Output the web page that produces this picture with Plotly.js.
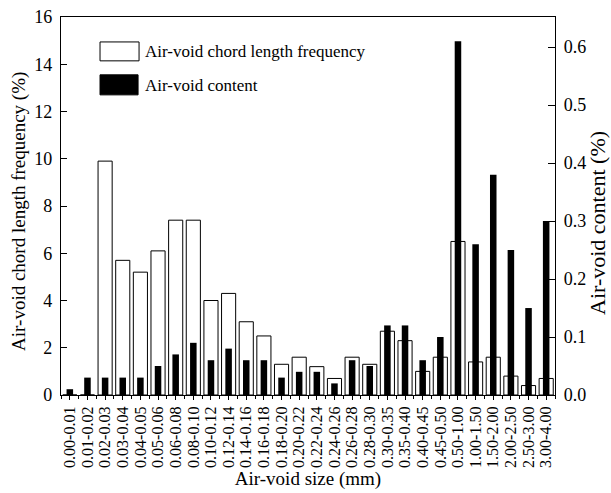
<!DOCTYPE html>
<html>
<head>
<meta charset="utf-8">
<script src="https://cdn.plot.ly/plotly-3.0.1.min.js"></script>
<style>
  html, body { margin: 0; padding: 0; background: #fff; }
  #chart { width: 611px; height: 493px; }
</style>
</head>
<body>
<div id="chart"></div>
<script>
// Air-void size classes (mm)
const sizeBins = [
  '0.00-0.01', '0.01-0.02', '0.02-0.03', '0.03-0.04', '0.04-0.05', '0.05-0.06',
  '0.06-0.08', '0.08-0.10', '0.10-0.12', '0.12-0.14', '0.14-0.16', '0.16-0.18',
  '0.18-0.20', '0.20-0.22', '0.22-0.24', '0.24-0.26', '0.26-0.28', '0.28-0.30',
  '0.30-0.35', '0.35-0.40', '0.40-0.45', '0.45-0.50', '0.50-1.00', '1.00-1.50',
  '1.50-2.00', '2.00-2.50', '2.50-3.00', '3.00-4.00'
];

// Air-void chord length frequency (%) — left axis
const chordFrequency = [
  0, 0, 9.9, 5.7, 5.2, 6.1,
  7.4, 7.4, 4.0, 4.3, 3.1, 2.5,
  1.3, 1.6, 1.2, 0.7, 1.6, 1.3,
  2.7, 2.3, 1.0, 1.6, 6.5, 1.4,
  1.6, 0.8, 0.4, 0.7
];

// Air-void content (%) — right axis
const voidContent = [
  0.01, 0.03, 0.03, 0.03, 0.03, 0.05,
  0.07, 0.09, 0.06, 0.08, 0.06, 0.06,
  0.03, 0.04, 0.04, 0.02, 0.06, 0.05,
  0.12, 0.12, 0.06, 0.10, 0.61, 0.26,
  0.38, 0.25, 0.15, 0.30
];

const leftTicks = [0, 2, 4, 6, 8, 10, 12, 14, 16];
const rightTicks = [0, 0.1, 0.2, 0.3, 0.4, 0.5, 0.6];

const legendNames = ['Air-void chord length frequency', 'Air-void content'];
const xTitle = 'Air-void size (mm)';
const leftTitle = 'Air-void chord length frequency (%)';
const rightTitle = 'Air-void content (%)';

const serif = 'Liberation Serif, Times New Roman, serif';
const binIndex = sizeBins.map((_, i) => i);

const traces = [
  {
    type: 'bar',
    name: legendNames[0],
    x: binIndex,
    y: chordFrequency,
    width: 0.8,
    marker: { color: '#ffffff', line: { color: '#000000', width: 1 } },
    yaxis: 'y',
    hoverinfo: 'skip'
  },
  {
    type: 'bar',
    name: legendNames[1],
    x: binIndex,
    y: voidContent,
    width: 0.37,
    marker: { color: '#000000', line: { width: 0 } },
    yaxis: 'y2',
    hoverinfo: 'skip'
  }
];

// paper-space geometry of the hand-drawn key
const key = { x0: 0.079, x1: 0.158, textX: 0.166 };

const layout = {
  width: 611,
  height: 493,
  margin: { l: 61, r: 56, t: 17, b: 98, pad: 0 },
  paper_bgcolor: '#ffffff',
  plot_bgcolor: '#ffffff',
  showlegend: false,
  barmode: 'overlay',
  font: { family: serif, color: '#000000' },
  xaxis: {
    range: [-0.5, sizeBins.length - 0.5],
    tickmode: 'array',
    tickvals: binIndex,
    ticktext: sizeBins,
    tickangle: -90,
    tickfont: { family: serif, size: 16, color: '#000' },
    ticks: 'outside',
    ticklen: 4,
    tickwidth: 1,
    tickcolor: '#000',
    minor: { tick0: 0.5, dtick: 1, ticks: 'outside', ticklen: 3, tickwidth: 1, tickcolor: '#000' },
    showline: true,
    linecolor: '#000',
    linewidth: 1.2,
    mirror: true,
    showgrid: false,
    zeroline: false,
    title: { text: xTitle, font: { family: serif, size: 19, color: '#000' }, standoff: 0 }
  },
  yaxis: {
    range: [0, 16],
    tickmode: 'array',
    tickvals: leftTicks,
    ticks: 'inside',
    ticklen: 6,
    tickwidth: 1,
    tickcolor: '#000',
    tickfont: { family: serif, size: 18, color: '#000' },
    ticklabelstandoff: 4,
    showline: true,
    linecolor: '#000',
    linewidth: 1.2,
    showgrid: false,
    zeroline: false
  },
  yaxis2: {
    overlaying: 'y',
    side: 'right',
    range: [0, 0.652],
    tickmode: 'array',
    tickvals: rightTicks,
    tickformat: '.1f',
    ticks: 'inside',
    ticklen: 7,
    tickwidth: 1,
    tickcolor: '#000',
    tickfont: { family: serif, size: 18, color: '#000' },
    ticklabelstandoff: 4,
    showline: true,
    linecolor: '#000',
    linewidth: 1.2,
    showgrid: false,
    zeroline: false
  },
  shapes: [
    { type: 'rect', xref: 'paper', yref: 'paper', x0: key.x0, x1: key.x1, y0: 0.884, y1: 0.934,
      fillcolor: '#ffffff', line: { color: '#000', width: 1 } },
    { type: 'rect', xref: 'paper', yref: 'paper', x0: key.x0, x1: key.x1 - 0.002, y0: 0.794, y1: 0.847,
      fillcolor: '#000000', line: { color: '#000', width: 1 } }
  ],
  annotations: [
    { xref: 'paper', yref: 'paper', x: key.textX, y: 0.910, xanchor: 'left', yanchor: 'middle',
      text: legendNames[0], showarrow: false, font: { family: serif, size: 17, color: '#000' } },
    { xref: 'paper', yref: 'paper', x: key.textX, y: 0.820, xanchor: 'left', yanchor: 'middle',
      text: legendNames[1], showarrow: false, font: { family: serif, size: 17, color: '#000' } },
    // vertical axis titles
    { xref: 'paper', yref: 'paper', x: -0.0866, y: 0.485, xanchor: 'center', yanchor: 'middle',
      textangle: -90, text: leftTitle, showarrow: false, font: { family: serif, size: 19, color: '#000' } },
    { xref: 'paper', yref: 'paper', x: 1.0850, y: 0.455, xanchor: 'center', yanchor: 'middle',
      textangle: -90, text: rightTitle, showarrow: false, font: { family: serif, size: 22, color: '#000' } }
  ]
};

Plotly.newPlot('chart', traces, layout, { staticPlot: true, displayModeBar: false });
</script>
</body>
</html>
